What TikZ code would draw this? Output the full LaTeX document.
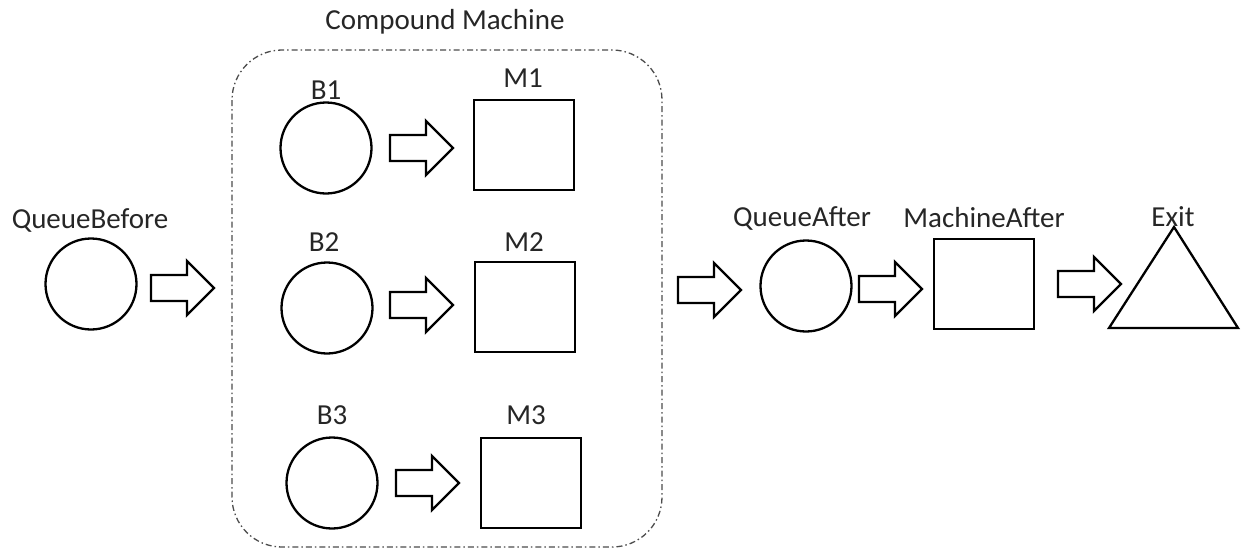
\documentclass[tikz,border=0pt]{standalone}
\usepackage{fontspec}
\setmainfont{Carlito}
\begin{document}
\begin{tikzpicture}[x=1pt,y=-1pt,
  every node/.style={font=\fontsize{29}{34}\selectfont, text=black!85},
  queue/.style={draw, circle, line width=2.3pt, minimum size=91pt, inner sep=0pt},
  machine/.style={draw, rectangle, line width=2.3pt, minimum width=100pt, minimum height=90pt, inner sep=0pt},
  exitline/.style={draw, line width=2.3pt, line join=miter},
  lbl/.style={inner sep=0pt},
  group/.style={draw=black!70, line width=1.3pt, rounded corners=50pt, dash pattern=on 6pt off 3pt on 1.5pt off 3pt},
  barrow/.pic={\draw[line width=2.3pt, line join=miter, fill=white]
     (0,-13) -- (36,-13) -- (36,-27) -- (63,0) -- (36,27) -- (36,13) -- (0,13) -- cycle;}
]
\useasboundingbox (0,0) rectangle (1242,549);
% compound machine group
\draw[group] (232,50) rectangle (662,547);
\node[lbl] (cmlbl) at (445,22) {Compound Machine};
% queue before
\node[queue] (qb) at (91,284) {};
\node[lbl] (qblbl) at (90,220) {QueueBefore};
\pic (a0) at (151,288) {barrow};
% row 1
\node[queue] (b1) at (326,148) {};
\node[lbl] (b1lbl) at (326,90) {B1};
\pic (a1) at (390,148) {barrow};
\node[machine] (m1) at (524,145) {};
\node[lbl] (m1lbl) at (523,78) {M1};
% row 2
\node[queue] (b2) at (327,308) {};
\node[lbl] (b2lbl) at (324,242) {B2};
\pic (a2) at (390,305) {barrow};
\node[machine] (m2) at (525,307) {};
\node[lbl] (m2lbl) at (524,242) {M2};
% row 3
\node[queue] (b3) at (332,483) {};
\node[lbl] (b3lbl) at (332,415) {B3};
\pic (a3) at (396,483) {barrow};
\node[machine] (m3) at (531,483) {};
\node[lbl] (m3lbl) at (526,415) {M3};
% after
\pic (a4) at (678,290) {barrow};
\node[queue] (qa) at (806,286) {};
\node[lbl] (qalbl) at (802,218) {QueueAfter};
\pic (a5) at (859,289) {barrow};
\node[machine] (ma) at (984,284) {};
\node[lbl] (malbl) at (984,218) {MachineAfter};
\pic (a6) at (1058,284) {barrow};
\coordinate (ex) at (1174,294);
\draw[exitline] (ex) ++(0,-67) -- ++(64,101) -- ++(-129,0) -- cycle;
\node[lbl] (exlbl) at (1173,217) {Exit};
\end{tikzpicture}
\end{document}
